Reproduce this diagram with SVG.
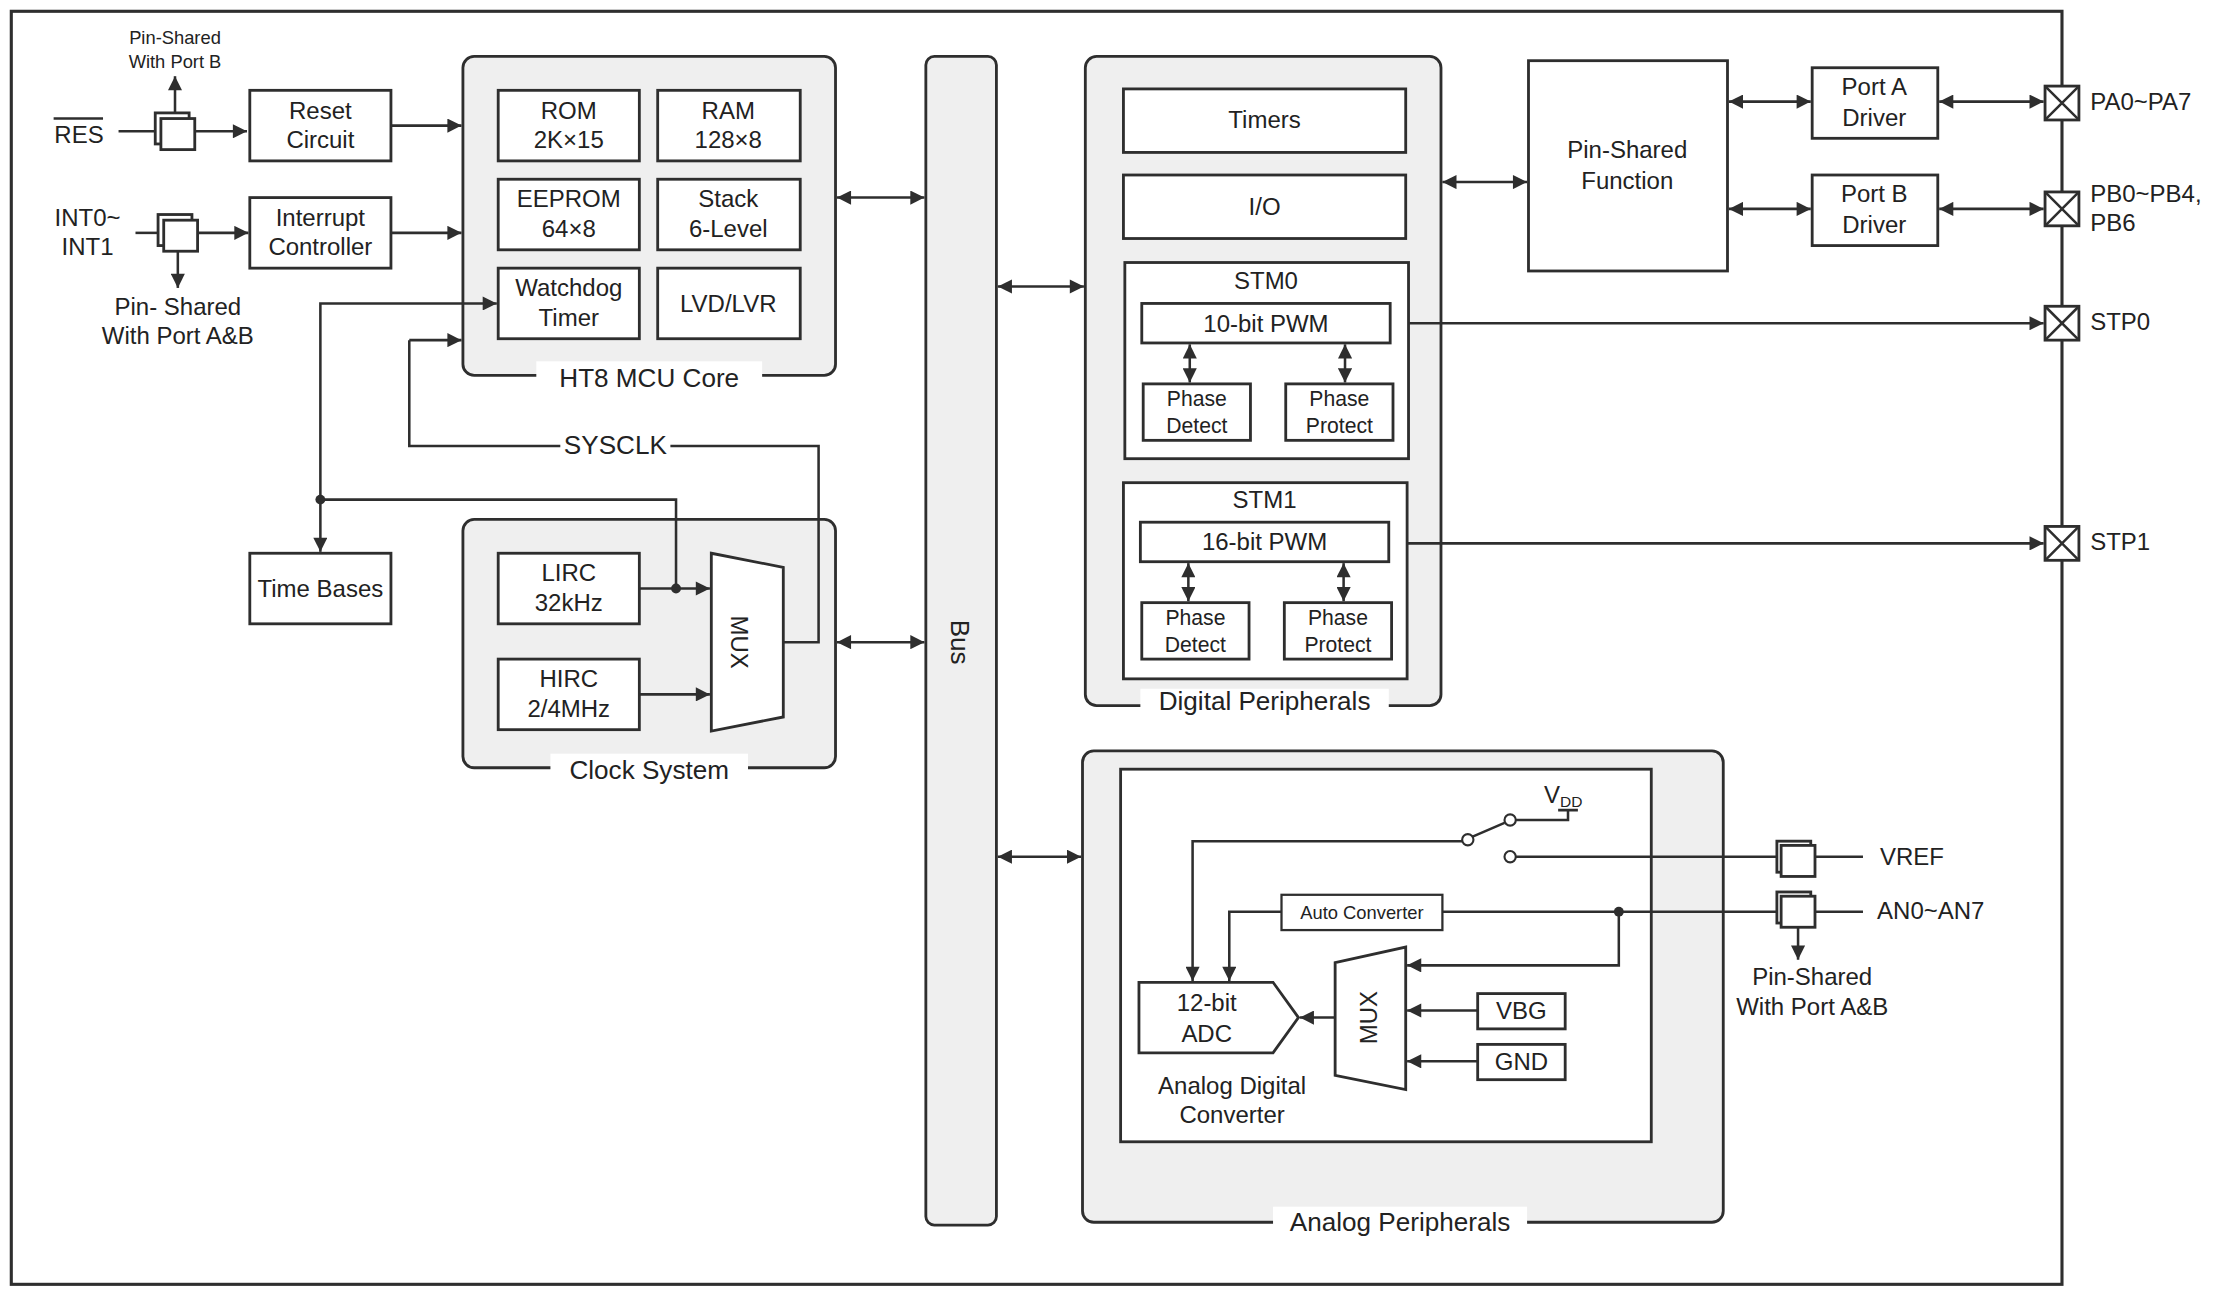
<svg xmlns="http://www.w3.org/2000/svg" width="2213" height="1296" viewBox="0 0 2213 1296">
<defs>
<marker id="ah" viewBox="0 0 10 10" refX="10" refY="5" markerWidth="11" markerHeight="10" markerUnits="userSpaceOnUse" orient="auto-start-reverse"><path d="M0,0 L10,5 L0,10 z" fill="#2e2e2e"/></marker>
<style>
.b{fill:#fff;stroke:#2e2e2e;stroke-width:2}
.p{fill:#efefef;stroke:#2e2e2e;stroke-width:2}
.l{fill:none;stroke:#2e2e2e;stroke-width:1.8}
.a{fill:none;stroke:#2e2e2e;stroke-width:1.8;marker-end:url(#ah)}
.d{fill:none;stroke:#2e2e2e;stroke-width:1.8;marker-end:url(#ah);marker-start:url(#ah)}
text{font-family:"Liberation Sans",Arial,sans-serif;fill:#222;font-size:17px;text-anchor:middle}
.s{font-size:15px}
.t{font-size:13px}
.g{font-size:18.5px}
.lb{fill:#fff;stroke:none}
</style>
</defs>
<rect width="2213" height="1296" fill="#fff"/>
<g transform="scale(1.41135)">
<rect x="8" y="8" width="1453" height="902" fill="none" stroke="#2e2e2e" stroke-width="2.2"/>

<g id="mcu">
<rect class="p" x="328" y="40" width="264" height="226" rx="8"/>
<rect class="lb" x="380" y="256" width="160" height="20"/>
<text class="g" x="460" y="274">HT8 MCU Core</text>
<rect class="b" x="353" y="64" width="100" height="50"/><text x="403" y="84">ROM</text><text x="403" y="105">2K×15</text>
<rect class="b" x="466" y="64" width="101" height="50"/><text x="516" y="84">RAM</text><text x="516" y="105">128×8</text>
<rect class="b" x="353" y="127" width="100" height="50"/><text x="403" y="147">EEPROM</text><text x="403" y="168">64×8</text>
<rect class="b" x="466" y="127" width="101" height="50"/><text x="516" y="147">Stack</text><text x="516" y="168">6-Level</text>
<rect class="b" x="353" y="190" width="100" height="50"/><text x="403" y="210">Watchdog</text><text x="403" y="231">Timer</text>
<rect class="b" x="466" y="190" width="101" height="50"/><text x="516" y="221">LVD/LVR</text>
</g>

<g id="reset"><rect class="b" x="177" y="64" width="100" height="50"/><text x="227" y="84">Reset</text><text x="227" y="105">Circuit</text></g>
<g id="intc"><rect class="b" x="177" y="140" width="100" height="50"/><text x="227" y="160">Interrupt</text><text x="227" y="181">Controller</text></g>
<g id="timebases"><rect class="b" x="177" y="392" width="100" height="50"/><text x="227" y="423">Time Bases</text></g>

<g id="clock">
<rect class="p" x="328" y="368" width="264" height="176" rx="8"/>
<rect class="lb" x="390" y="534" width="140" height="20"/>
<text class="g" x="460" y="552">Clock System</text>
<rect class="b" x="353" y="392" width="100" height="50"/><text x="403" y="412">LIRC</text><text x="403" y="433">32kHz</text>
<rect class="b" x="353" y="467" width="100" height="50"/><text x="403" y="487">HIRC</text><text x="403" y="508">2/4MHz</text>
<polygon class="b" points="504,392 555,402 555,508 504,518"/>
<text transform="translate(524,455) rotate(90)" y="6">MUX</text>
</g>

<g id="bus"><rect class="p" x="656" y="40" width="50" height="828" rx="6"/><text class="g" transform="translate(680,455) rotate(90)" y="6">Bus</text></g>

<g id="digital">
<rect class="p" x="769" y="40" width="252" height="460" rx="8"/>
<rect class="lb" x="808" y="488" width="176" height="20"/>
<text class="g" x="896" y="503">Digital Peripherals</text>
<rect class="b" x="796" y="63" width="200" height="45"/><text x="896" y="91">Timers</text>
<rect class="b" x="796" y="124" width="200" height="45"/><text x="896" y="152">I/O</text>
<rect class="b" x="797" y="186" width="201" height="139"/><text x="897" y="205">STM0</text>
<rect class="b" x="809" y="215" width="176" height="28"/><text x="897" y="235">10-bit PWM</text>
<rect class="b" x="810" y="272" width="76" height="40"/><text class="s" x="848" y="288">Phase</text><text class="s" x="848" y="307">Detect</text>
<rect class="b" x="911" y="272" width="76" height="40"/><text class="s" x="949" y="288">Phase</text><text class="s" x="949" y="307">Protect</text>
<rect class="b" x="796" y="342" width="201" height="139"/><text x="896" y="360">STM1</text>
<rect class="b" x="808" y="370" width="176" height="28"/><text x="896" y="390">16-bit PWM</text>
<rect class="b" x="809" y="427" width="76" height="40"/><text class="s" x="847" y="443">Phase</text><text class="s" x="847" y="462">Detect</text>
<rect class="b" x="910" y="427" width="76" height="40"/><text class="s" x="948" y="443">Phase</text><text class="s" x="948" y="462">Protect</text>
</g>

<g id="psf"><rect class="b" x="1083" y="43" width="141" height="149"/><text x="1153" y="112">Pin-Shared</text><text x="1153" y="134">Function</text></g>
<g id="porta"><rect class="b" x="1284" y="48" width="89" height="50"/><text x="1328" y="67">Port A</text><text x="1328" y="89">Driver</text></g>
<g id="portb"><rect class="b" x="1284" y="124" width="89" height="50"/><text x="1328" y="143">Port B</text><text x="1328" y="165">Driver</text></g>

<g id="pins">
<g class="l"><rect class="b" x="1449" y="61" width="24" height="24"/><path class="l" d="M1449,61 L1473,85 M1473,61 L1449,85"/></g>
<g><rect class="b" x="1449" y="136" width="24" height="24"/><path class="l" d="M1449,136 L1473,160 M1473,136 L1449,160"/></g>
<g><rect class="b" x="1449" y="217" width="24" height="24"/><path class="l" d="M1449,217 L1473,241 M1473,217 L1449,241"/></g>
<g><rect class="b" x="1449" y="373" width="24" height="24"/><path class="l" d="M1449,373 L1473,397 M1473,373 L1449,397"/></g>
<text x="1481" y="78" style="text-anchor:start">PA0~PA7</text>
<text x="1481" y="143" style="text-anchor:start">PB0~PB4,</text>
<text x="1481" y="164" style="text-anchor:start">PB6</text>
<text x="1481" y="234" style="text-anchor:start">STP0</text>
<text x="1481" y="390" style="text-anchor:start">STP1</text>
</g>

<g id="inputs">
<text x="56" y="101">RES</text><path class="l" d="M38,84 H73"/>
<rect class="b" x="110" y="80" width="24" height="22"/><rect class="b" x="114" y="84" width="24" height="22"/>
<text class="t" x="124" y="31">Pin-Shared</text><text class="t" x="124" y="48">With Port B</text>
<text x="62" y="160">INT0~</text><text x="62" y="181">INT1</text>
<rect class="b" x="112" y="152" width="24" height="22"/><rect class="b" x="116" y="156" width="24" height="22"/>
<text x="126" y="223">Pin- Shared</text><text x="126" y="244">With Port A&amp;B</text>
</g>

<g id="analog">
<rect class="p" x="767" y="532" width="454" height="334" rx="8"/>
<rect class="lb" x="902" y="855" width="180" height="20"/>
<text class="g" x="992" y="872">Analog Peripherals</text>
<rect class="b" x="794" y="545" width="376" height="264"/>
<polygon class="b" points="807,696 902,696 920,721 902,746 807,746"/>
<text x="855" y="716">12-bit</text><text x="855" y="738">ADC</text>
<text x="873" y="775">Analog Digital</text><text x="873" y="796">Converter</text>
<polygon class="b" points="946,682 996,671 996,772 946,762"/>
<text transform="translate(970,721) rotate(-90)" y="6">MUX</text>
<rect class="b" x="1047" y="704" width="62" height="25"/><text x="1078" y="722">VBG</text>
<rect class="b" x="1047" y="740" width="62" height="25"/><text x="1078" y="758">GND</text>
<rect class="b" x="908" y="634" width="114" height="25" style="stroke-width:1.6"/><text class="t" x="965" y="651">Auto Converter</text>
<circle cx="1040" cy="595" r="4" fill="#fff" stroke="#2e2e2e" stroke-width="1.5"/>
<circle cx="1070" cy="581" r="4" fill="#fff" stroke="#2e2e2e" stroke-width="1.5"/>
<circle cx="1070" cy="607" r="4" fill="#fff" stroke="#2e2e2e" stroke-width="1.5"/>
<path class="l" d="M1043,593 L1066,583 M1074,581 H1111 V574 M1104,574 H1118"/>
<text x="1094" y="569" style="text-anchor:start">V<tspan font-size="11" dy="3">DD</tspan></text>
<rect class="b" x="1259" y="596" width="24" height="22"/><rect class="b" x="1262" y="599" width="24" height="22"/>
<rect class="b" x="1259" y="632" width="24" height="22"/><rect class="b" x="1262" y="635" width="24" height="22"/>
<text x="1332" y="613" style="text-anchor:start">VREF</text>
<text x="1330" y="651" style="text-anchor:start">AN0~AN7</text>
<text x="1284" y="698">Pin-Shared</text><text x="1284" y="719">With Port A&amp;B</text>
</g>

<g id="connectors">
<path class="l" d="M84,93 H110"/>
<path class="a" d="M124,80 V54"/>
<path class="a" d="M138,93 H175"/>
<path class="a" d="M277,89 H327"/>
<path class="l" d="M96,165 H112"/>
<path class="a" d="M140,165 H176"/>
<path class="a" d="M126,178 V204"/>
<path class="a" d="M277,165 H327"/>
<path class="a" d="M227,354 V391"/>
<path class="a" d="M227,354 V215 H352"/>
<path class="l" d="M227,354 H479 V417"/>
<circle cx="227" cy="354" r="3.5" fill="#2e2e2e"/>
<circle cx="479" cy="417" r="3.5" fill="#2e2e2e"/>
<path class="a" d="M453,417 H503"/>
<path class="a" d="M453,492 H503"/>
<path class="l" d="M555,455 H580 V316 H475 M397,316 H290 V241"/>
<path class="a" d="M290,241 H327"/>
<text class="g" x="436" y="322">SYSCLK</text>
<path class="d" d="M593,140 H655"/>
<path class="d" d="M593,455 H655"/>
<path class="d" d="M707,203 H768"/>
<path class="d" d="M707,607 H766"/>
<path class="d" d="M1022,129 H1082"/>
<path class="d" d="M1225,72 H1283"/>
<path class="d" d="M1374,72 H1448"/>
<path class="d" d="M1225,148 H1283"/>
<path class="d" d="M1374,148 H1448"/>
<path class="a" d="M998,229 H1448"/>
<path class="a" d="M997,385 H1448"/>
<path class="d" d="M843,244 V271"/>
<path class="d" d="M953,244 V271"/>
<path class="d" d="M842,399 V426"/>
<path class="d" d="M952,399 V426"/>
<path class="a" d="M1036,596 H845 V695"/>
<path class="l" d="M1074,607 H1259"/>
<path class="l" d="M1286,607 H1320"/>
<path class="a" d="M908,646 H871 V695"/>
<path class="l" d="M1022,646 H1259 M1286,646 H1320"/>
<circle cx="1147" cy="646" r="3.5" fill="#2e2e2e"/>
<path class="a" d="M1147,646 V684 H997"/>
<path class="a" d="M1047,716 H997"/>
<path class="a" d="M1047,752 H997"/>
<path class="a" d="M946,721 H921"/>
<path class="a" d="M1274,657 V680"/>
</g>
</g>
</svg>
